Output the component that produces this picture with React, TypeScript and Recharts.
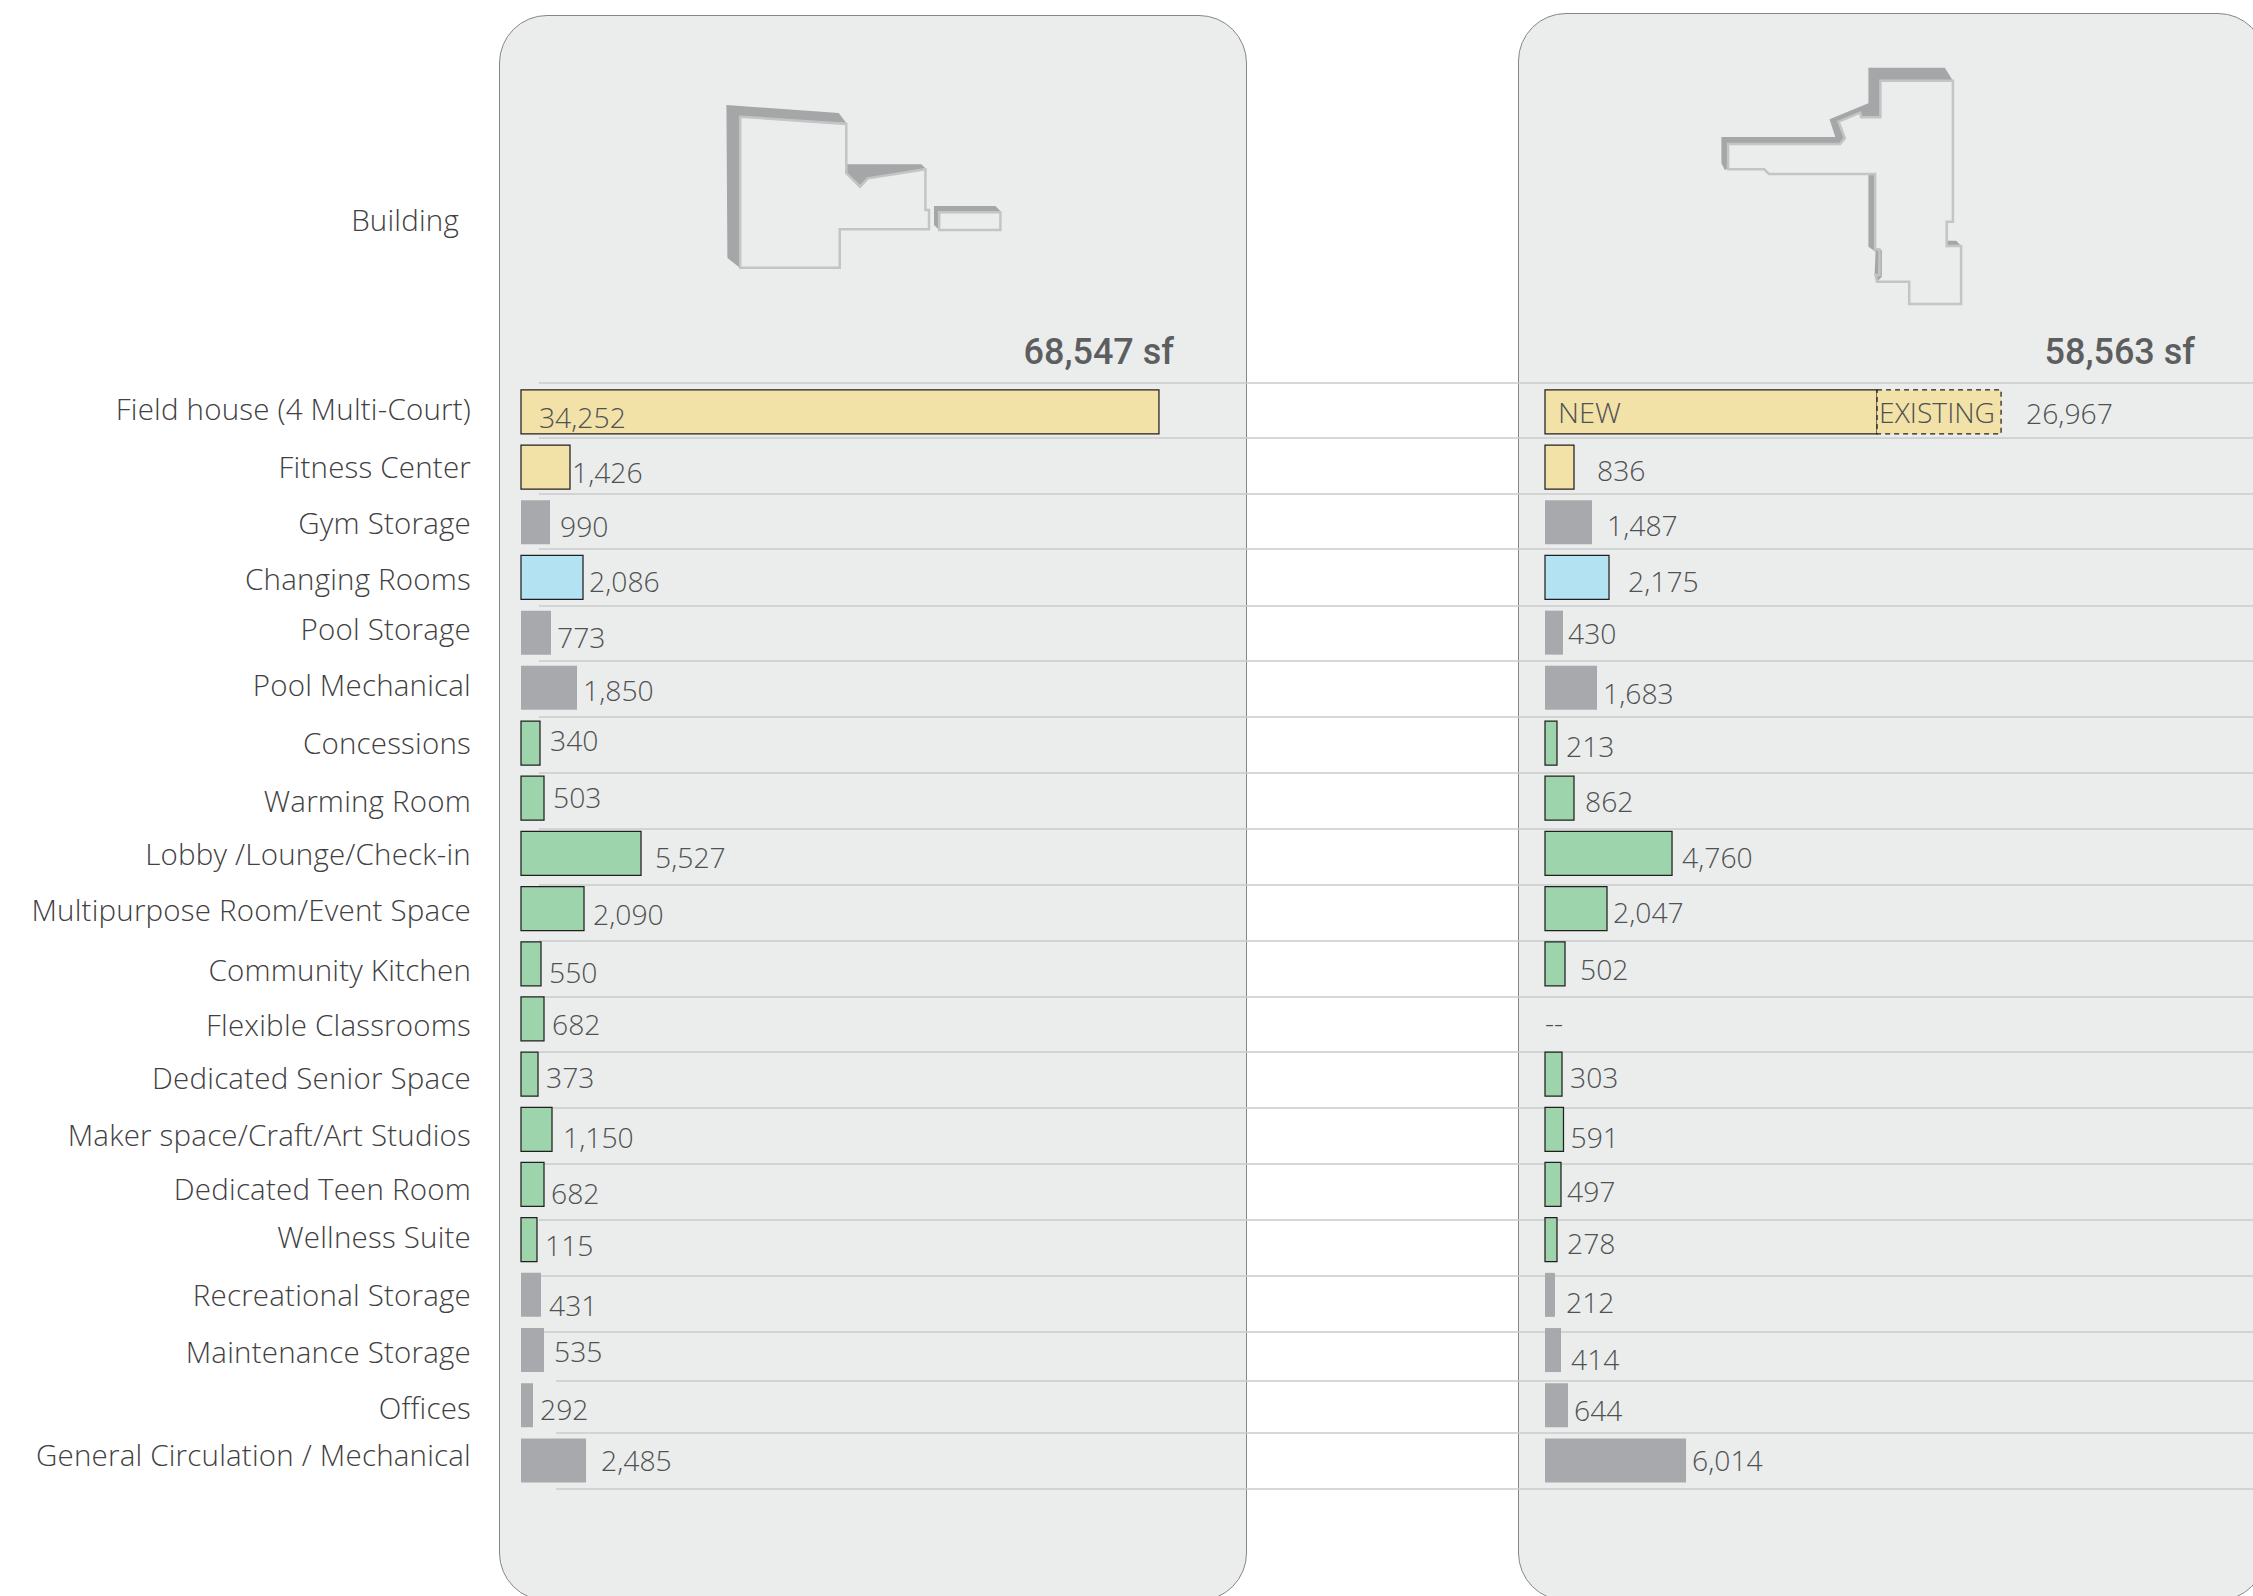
// App.tsx - program area comparison of two buildings

import React from 'react'
import { BarChart, Bar, XAxis, YAxis, CartesianGrid, Cell, LabelList } from 'recharts'

const categories = [
  'Field house (4 Multi-Court)', 'Fitness Center', 'Gym Storage', 'Changing Rooms', 'Pool Storage',
  'Pool Mechanical', 'Concessions', 'Warming Room', 'Lobby /Lounge/Check-in', 'Multipurpose Room/Event Space',
  'Community Kitchen', 'Flexible Classrooms', 'Dedicated Senior Space', 'Maker space/Craft/Art Studios',
  'Dedicated Teen Room', 'Wellness Suite', 'Recreational Storage', 'Maintenance Storage', 'Offices',
  'General Circulation / Mechanical',
]

// use group of each row, gives the bar colour
const groups = [
  'sport', 'sport', 'store', 'pool', 'store', 'store', 'comm', 'comm', 'comm', 'comm',
  'comm', 'comm', 'comm', 'comm', 'comm', 'comm', 'store', 'store', 'store', 'store',
]

// figures printed beside the bars
const printedA = [
  '34,252', '1,426', '990', '2,086', '773', '1,850', '340', '503', '5,527', '2,090',
  '550', '682', '373', '1,150', '682', '115', '431', '535', '292', '2,485',
]
const printedB = [
  '26,967', '836', '1,487', '2,175', '430', '1,683', '213', '862', '4,760', '2,047',
  '502', '--', '303', '591', '497', '278', '212', '414', '644', '6,014',
]

// the source bars are not to scale with the printed figures, so the drawn lengths are
// read off the picture, in the units of the 34,252 bar
const drawnA = [
  34252, 2630, 1557, 3329, 1611, 3007, 1020, 1235, 6444, 3383,
  1074, 1235, 913, 1665, 1235, 859, 1074, 1235, 644, 3491,
]
const drawnB = [
  17828, 1557, 2524, 3437, 967, 2792, 644, 1557, 6820, 3329,
  1074, 0, 913, 993, 859, 644, 537, 859, 1235, 7572,
]
const existingB = [6659, null, null, null, null, null, null, null, null, null, null, null, null, null, null, null, null, null, null, null]

const rows = categories.map((category, i) => ({
  category,
  drawnA: drawnA[i],
  drawnB: drawnB[i],
  existingB: existingB[i],
  printedA: printedA[i],
  printedB: printedB[i],
}))

const PAGE_W = 2253
const PAGE_H = 1596
const UNITS_PER_PX = 53.69
const LEFT_BARS_X = 521
const RIGHT_BARS_X = 1545
const PLOT_TOP = 383.9
const PLOT_BOTTOM = 1487.6

const INK = '#505153'
const BAR_LINE = '#231f20'
const LABEL_FONT = '"Open Sans", sans-serif'
const NUMBER_FONT = '"Open Sans", sans-serif'

const fills: Record<string, string> = { sport: '#f2e2a8', store: '#a7a9ac', pool: '#b3e2f3', comm: '#9dd4ab' }

// hand placement of the text in the source, px from the bar end / row centre
const gapA = [-620, 2, 10, 6, 6, 6, 10, 9, 14, 9, 8, 8, 8, 11, 7, 8, 8, 10, 7, 15]
const liftA = [5, 5, 4, 4, 4, 2, -3, -1, 4, 5, 8, 5, 3, 8, 9, 5, 10, 1, 4, 0]
const gapB = [149, 23, 15, 19, 5, 6, 9, 11, 10, 6, 15, 0, 8, 7, 6, 10, 11, 10, 6, 6]
const liftB = [1, 3, 3, 4, 0, 5, 3, 3, 4, 3, 5, 3, 3, 8, 7, 3, 7, 9, 5, 0]
const liftCategory = [-2.5, 0, 1, 1, -4, -2.5, 0, 3, 1, 1, 6.5, 6, 4, 6, 4, -2.5, 0, 2, 3, -6]

const gridLongLines = [383, 438, 494, 549, 606, 661, 717, 773, 829, 885, 941, 997, 1052, 1108, 1164, 1220, 1276, 1332]
const gridShortLines = [1381, 1433, 1489]

const numberLabel = (gaps: number[], lifts: number[]) => (p: any) => (
  <text
    x={p.x + p.width + gaps[p.index]}
    y={p.y + p.height / 2 + lifts[p.index]}
    dominantBaseline="central"
    fontFamily={NUMBER_FONT}
    fontWeight={300}
    fontSize={28.3}
    fill={INK}
  >
    {p.value}
  </text>
)

const categoryTick = (p: any) => (
  <text
    x={471}
    y={p.y + liftCategory[p.index]}
    textAnchor="end"
    dominantBaseline="central"
    fontFamily={LABEL_FONT}
    fontWeight={300}
    fontSize={29.5}
    letterSpacing={0.2}
    fill="#414042"
  >
    {p.payload.value}
  </text>
)

const segmentTag = (text: string, offset: number, width: number) => (p: any) =>
  p.index === 0 ? (
    <text
      x={p.x + offset}
      y={p.y + p.height / 2 + 1}
      dominantBaseline="central"
      fontFamily={LABEL_FONT}
      fontWeight={300}
      fontSize={27}
      fill={INK}
      textLength={width}
      lengthAdjust="spacingAndGlyphs"
    >
      {text}
    </text>
  ) : null

function Panel({ left, top, height }: { left: number; top: number; height: number }) {
  return (
    <div
      style={{
        position: 'absolute',
        left,
        top,
        width: 748,
        height,
        boxSizing: 'border-box',
        background: '#ebedec',
        border: '1.5px solid #868686',
        borderRadius: 48,
      }}
    />
  )
}

// building outlines and other bits around the bars
function Drawing() {
  const shade = '#a5a6a8'
  const edge = { fill: 'none', stroke: '#c3c5c5', strokeWidth: 2.5 }
  return (
    <svg width={PAGE_W} height={PAGE_H} style={{ position: 'absolute', left: 0, top: 0 }}>
      <polygon fill={shade} points="726.4,105 838.7,113 846.3,123 740.2,117 740.2,268 727.4,258" />
      <polygon fill={shade} points="846.3,164.3 921.3,164.3 925.4,168.3 867.8,178.3 859.1,187.3 844.8,171.7" />
      <polygon {...edge} points="740.2,116.7 846.3,124 846.3,173.3 860.1,186.7 867.8,178.3 925.4,169.3 925.4,210 929,210 929,229.3 839.7,229.3 839.7,267.7 740.2,267.7" />
      <polygon fill={shade} points="934,206 995.3,206 1000.4,211 939.2,212.3 939.2,230 934,225" />
      <polygon {...edge} points="939.2,212.3 1000.4,212.3 1000.4,230 939.2,230" />

      <polygon fill={shade} points="1868.4,67.7 1944.8,67.7 1952.9,80.7 1880.4,80.7 1880.4,117.3 1861.2,117.3 1860.2,112.7 1838.6,121.7 1844.9,138.3 1840,144 1728.1,144 1728.1,168.3 1724.8,170 1721.4,163.3 1721.4,137 1835.3,137 1829.5,119.3 1868.4,103.3" />
      <polygon fill={shade} points="1868.4,175 1875.1,175 1875.1,248.3 1881.8,250 1881.8,276.7 1877,281.7 1874.6,275 1875.6,251.7 1868.4,246.7" />
      <polygon fill={shade} points="1946.7,240.7 1956.3,240.7 1961.1,246 1946.7,247.3" />
      <polygon {...edge} points="1880.4,80.7 1952.9,80.7 1952.9,221.7 1946.7,221.7 1946.7,246 1961.1,246 1961.1,304 1909.2,304 1909.2,281.7 1877,281.7 1875.6,275 1879.4,275 1879.4,249.3 1875.1,249.3 1875.1,174 1769,174 1764.2,169.3 1728.1,169.3 1728.1,144 1840,144 1844.9,138.3 1838.6,121.7 1860.2,112.7 1861.2,117.3 1880.4,117.3" />

      <text x={1174} y={352} textAnchor="end" dominantBaseline="central" fontFamily="Roboto, sans-serif" fontWeight={500} fontSize={36} fill="#5d5e60">68,547 sf</text>
      <text x={2195} y={352} textAnchor="end" dominantBaseline="central" fontFamily="Roboto, sans-serif" fontWeight={500} fontSize={36} fill="#5d5e60">58,563 sf</text>
      <text x={459} y={219} textAnchor="end" dominantBaseline="central" fontFamily={LABEL_FONT} fontWeight={300} fontSize={29.5} letterSpacing={0.2} fill="#414042">Building</text>
    </svg>
  )
}

function barCells(values: number[]) {
  return groups.map((g, i) => (
    <Cell key={i} fill={fills[g]} stroke={g === 'store' || values[i] === 0 ? 'none' : BAR_LINE} strokeWidth={1.25} />
  ))
}

export default function App() {
  return (
    <div style={{ position: 'absolute', left: 0, top: 0, width: PAGE_W, height: PAGE_H, overflow: 'hidden', background: '#fff' }}>
      <Panel left={499} top={15} height={1586} />
      <Panel left={1518} top={13} height={1588} />
      <Drawing />

      {/* first building, also holds the row names and the long rules */}
      <div style={{ position: 'absolute', left: 0, top: 0 }}>
        <BarChart
          width={PAGE_W}
          height={PAGE_H}
          data={rows}
          layout="vertical"
          barCategoryGap={0}
          margin={{ top: PLOT_TOP, right: 0, bottom: PAGE_H - PLOT_BOTTOM, left: 0 }}
        >
          <CartesianGrid vertical={false} horizontalPoints={gridLongLines} x={539} width={PAGE_W - 539} stroke="#c9cbca" strokeWidth={1.5} />
          <CartesianGrid vertical={false} horizontalPoints={gridShortLines} x={556} width={PAGE_W - 556} stroke="#c9cbca" strokeWidth={1.5} />
          <XAxis type="number" hide domain={[0, (PAGE_W - LEFT_BARS_X) * UNITS_PER_PX]} />
          <YAxis type="category" dataKey="category" width={LEFT_BARS_X} interval={0} axisLine={false} tickLine={false} tick={categoryTick} />
          <Bar dataKey="drawnA" barSize={44} isAnimationActive={false}>
            {barCells(drawnA)}
            <LabelList dataKey="printedA" content={numberLabel(gapA, liftA)} />
          </Bar>
        </BarChart>
      </div>

      {/* second building, minPointSize keeps the empty row so its "--" still gets a label */}
      <div style={{ position: 'absolute', left: 0, top: 0 }}>
        <BarChart
          width={PAGE_W}
          height={PAGE_H}
          data={rows}
          layout="vertical"
          barCategoryGap={0}
          margin={{ top: PLOT_TOP, right: 0, bottom: PAGE_H - PLOT_BOTTOM, left: RIGHT_BARS_X }}
        >
          <XAxis type="number" hide domain={[0, (PAGE_W - RIGHT_BARS_X) * UNITS_PER_PX]} />
          <YAxis type="category" dataKey="category" hide />
          <Bar dataKey="drawnB" stackId="b" barSize={44} minPointSize={0.01} isAnimationActive={false}>
            {barCells(drawnB)}
            <LabelList dataKey="printedB" content={numberLabel(gapB, liftB)} />
            <LabelList dataKey="printedB" content={segmentTag('NEW', 13, 63)} />
          </Bar>
          <Bar dataKey="existingB" stackId="b" barSize={44} fill={fills.sport} stroke={BAR_LINE} strokeWidth={1.25} strokeDasharray="5 4" isAnimationActive={false}>
            <LabelList dataKey="printedB" content={segmentTag('EXISTING', 2, 116)} />
          </Bar>
        </BarChart>
      </div>
    </div>
  )
}
